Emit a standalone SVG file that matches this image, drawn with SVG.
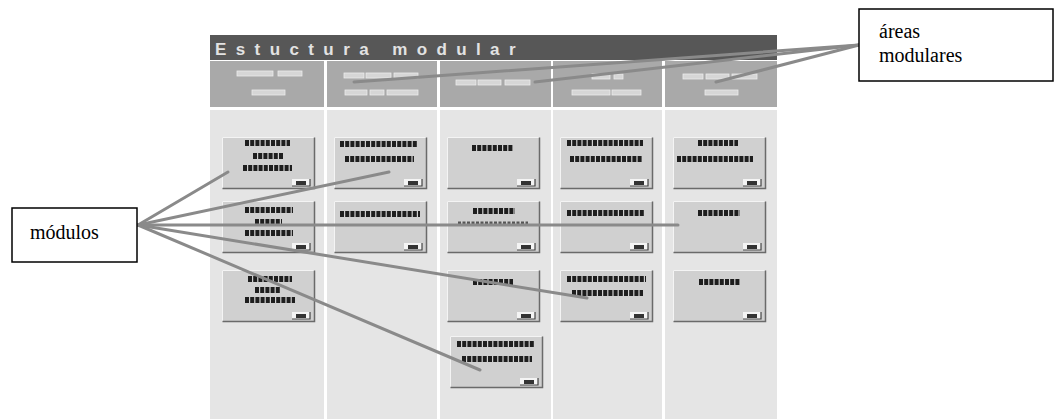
<svg xmlns="http://www.w3.org/2000/svg" width="1057" height="419" viewBox="0 0 1057 419">
<style>
.hdr{fill:#a9a9a9}
.body{fill:#e5e5e5}
.tag{fill:#d6d6d6;stroke:#ececec;stroke-width:0.8}
.txt{stroke:#1e1e1e;stroke-width:6;stroke-dasharray:4 1.2;fill:none}
.txt2{stroke:#555;stroke-width:3;stroke-dasharray:3 1.5;fill:none}
.conn{stroke:#8a8a8a;stroke-width:3;fill:none;stroke-linecap:round}
.callout{fill:#fff;stroke:#000;stroke-width:1.5}
.label{font-family:"Liberation Serif","Times New Roman",serif;font-size:20px;fill:#000}
.title{font-family:"Liberation Sans",Arial,sans-serif;font-weight:bold;font-size:17px;fill:#e2e2e2;letter-spacing:9.4px}
</style>
<defs>
<symbol id="mod" width="93" height="52" viewBox="0 0 93 52" overflow="visible">
<rect x="0" y="0" width="93" height="52" fill="#d0d0d0"/>
<polyline points="0.5,51.5 0.5,0.5 92.5,0.5" fill="none" stroke="#f4f4f4" stroke-width="1"/>
<polyline points="0.5,51.5 92.5,51.5 92.5,0.5" fill="none" stroke="#6a6a6a" stroke-width="1.5"/>
<rect x="70" y="42" width="18" height="7" fill="#f4f4f4"/>
<polyline points="70,49 88,49 88,42" fill="none" stroke="#444" stroke-width="1.2"/>
<rect x="74" y="44" width="10" height="4" fill="#333"/>
</symbol>
</defs>
<rect x="0" y="0" width="1057" height="419" fill="#fff"/>

<g id="screenshot">
<rect x="210" y="35" width="567" height="25" fill="#575757"/>
<text class="title" x="215" y="55">Estuctura modular</text>
<rect class="hdr" x="210" y="61" width="114" height="46"/>
<rect class="hdr" x="327" y="61" width="110" height="46"/>
<rect class="hdr" x="440" y="61" width="111" height="46"/>
<rect class="hdr" x="553" y="61" width="109" height="46"/>
<rect class="hdr" x="665" y="61" width="112" height="46"/>
<rect class="body" x="210" y="110" width="114" height="309"/>
<rect class="body" x="327" y="110" width="110" height="309"/>
<rect class="body" x="440" y="110" width="111" height="309"/>
<rect class="body" x="553" y="110" width="109" height="309"/>
<rect class="body" x="665" y="110" width="112" height="309"/>
<g id="header-tags">
<rect class="tag" x="237" y="71" width="36" height="5"/><rect class="tag" x="278" y="71" width="24" height="5"/>
<rect class="tag" x="252" y="90" width="33" height="5"/>
<rect class="tag" x="344" y="73" width="20" height="5"/><rect class="tag" x="366" y="73" width="25" height="5"/><rect class="tag" x="394" y="73" width="24" height="5"/>
<rect class="tag" x="345" y="90" width="22" height="5"/><rect class="tag" x="370" y="90" width="14" height="5"/><rect class="tag" x="387" y="90" width="31" height="5"/>
<rect class="tag" x="456" y="80" width="20" height="5"/><rect class="tag" x="478" y="80" width="23" height="5"/><rect class="tag" x="505" y="80" width="25" height="5"/>
<rect class="tag" x="592" y="74" width="18" height="5"/><rect class="tag" x="614" y="74" width="9" height="5"/>
<rect class="tag" x="572" y="90" width="38" height="5"/><rect class="tag" x="612" y="90" width="29" height="5"/>
<rect class="tag" x="683" y="74" width="20" height="5"/><rect class="tag" x="706" y="74" width="23" height="5"/><rect class="tag" x="732" y="74" width="25" height="5"/>
<rect class="tag" x="705" y="90" width="33" height="5"/>
</g>
</g>

<g id="mod-c1r1"><use href="#mod" x="222" y="137"/><path class="txt" d="M245 143H290M253 156H284M243 168H292"/></g>
<g id="mod-c1r2"><use href="#mod" x="222" y="201"/><path class="txt" d="M245 210H293M255 222H282M245 233H293"/></g>
<g id="mod-c1r3"><use href="#mod" x="222" y="270"/><path class="txt" d="M248 279H292M255 290H281M245 300H295"/></g>
<g id="mod-c2r1"><use href="#mod" x="334" y="137"/><path class="txt" d="M340 144H418M345 159H414"/></g>
<g id="mod-c2r2"><use href="#mod" x="334" y="201"/><path class="txt" d="M340 214H420"/></g>
<g id="mod-c3r1"><use href="#mod" x="447" y="137"/><path class="txt" d="M472 148H513"/></g>
<g id="mod-c3r2"><use href="#mod" x="447" y="201"/><path class="txt" d="M473 211H515"/><path class="txt2" d="M458 223H528"/></g>
<g id="mod-c3r3"><use href="#mod" x="447" y="270"/><path class="txt" d="M473 282H513"/></g>
<g id="mod-c3r4"><use href="#mod" x="450" y="336"/><path class="txt" d="M457 344H534M462 359H532"/></g>
<g id="mod-c4r1"><use href="#mod" x="560" y="137"/><path class="txt" d="M567 143H643M570 159H642"/></g>
<g id="mod-c4r2"><use href="#mod" x="560" y="201"/><path class="txt" d="M567 213H644"/></g>
<g id="mod-c4r3"><use href="#mod" x="560" y="270"/><path class="txt" d="M567 279H646M572 293H643"/></g>
<g id="mod-c5r1"><use href="#mod" x="673" y="137"/><path class="txt" d="M698 143H738M677 159H753"/></g>
<g id="mod-c5r2"><use href="#mod" x="673" y="201"/><path class="txt" d="M698 213H740"/></g>
<g id="mod-c5r3"><use href="#mod" x="673" y="270"/><path class="txt" d="M699 282H740"/></g>

<g id="connectors">
<line class="conn" x1="859" y1="45" x2="354" y2="82"/>
<line class="conn" x1="859" y1="45" x2="535" y2="82"/>
<line class="conn" x1="859" y1="45" x2="716" y2="82"/>
<line class="conn" x1="138" y1="225" x2="228" y2="172"/>
<line class="conn" x1="138" y1="225" x2="389" y2="172"/>
<line class="conn" x1="138" y1="225" x2="678" y2="225"/>
<line class="conn" x1="138" y1="225" x2="587" y2="298"/>
<line class="conn" x1="138" y1="225" x2="480" y2="370"/>
</g>

<g id="areas-modulares">
<rect class="callout" x="859" y="9" width="194" height="72"/>
<text class="label" x="879" y="38">áreas</text>
<text class="label" x="879" y="62">modulares</text>
</g>

<g id="modulos">
<rect class="callout" x="12" y="208" width="125" height="54"/>
<text class="label" x="30" y="239">módulos</text>
</g>
</svg>
